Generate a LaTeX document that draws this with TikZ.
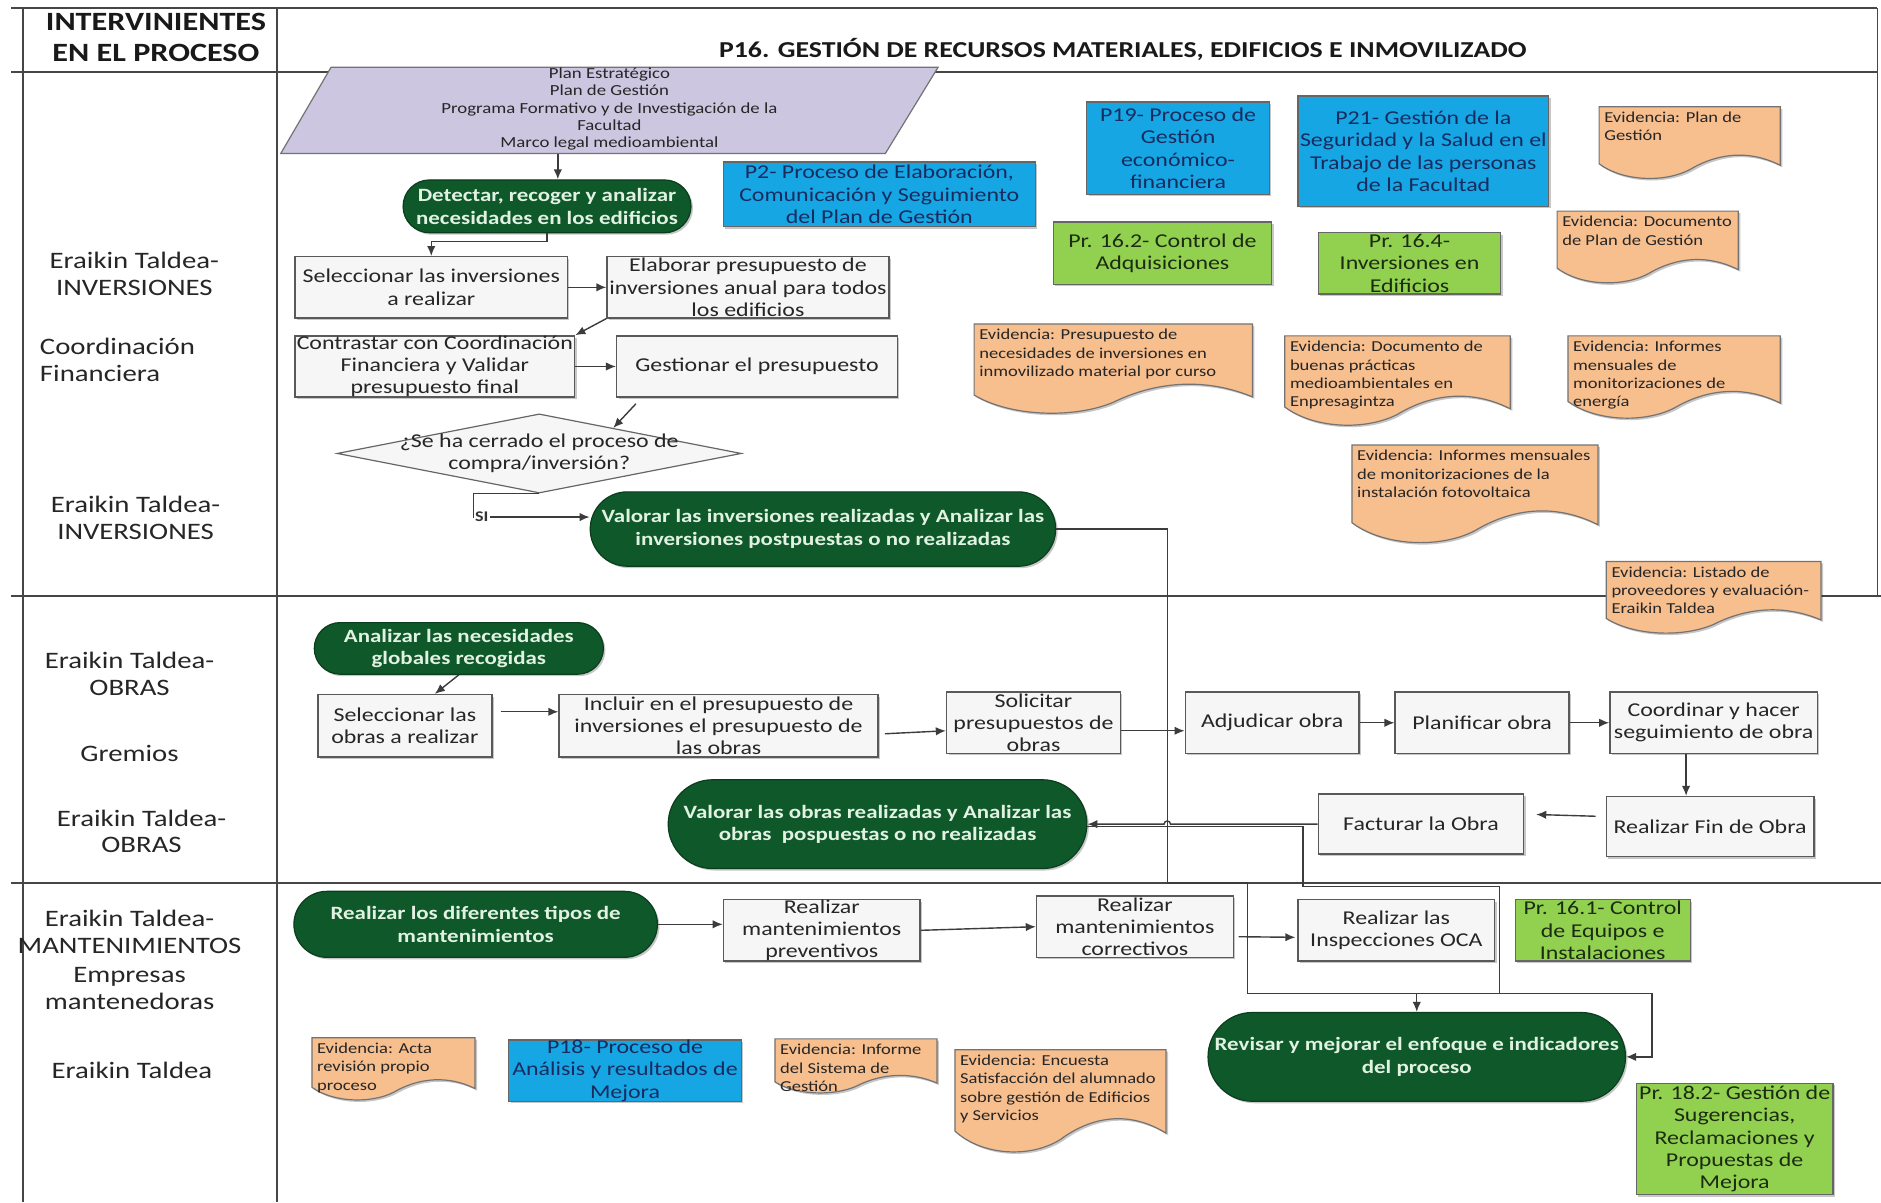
\documentclass[tikz,border=0pt]{standalone}
\usepackage{fontspec}
\setmainfont{Carlito}[FakeStretch=1.22]
\usetikzlibrary{arrows.meta,shapes.geometric,shadows}

\definecolor{frameC}{RGB}{70,70,70}
\definecolor{lineC}{RGB}{60,60,60}
\definecolor{pillC}{RGB}{14,88,42}
\definecolor{pillT}{RGB}{226,242,226}
\definecolor{blueC}{RGB}{22,166,228}
\definecolor{blueT}{RGB}{24,44,96}
\definecolor{greenC}{RGB}{146,208,80}
\definecolor{greenT}{RGB}{28,44,18}
\definecolor{evidC}{RGB}{247,190,142}
\definecolor{paraC}{RGB}{204,198,224}

\tikzset{
  frame/.style={draw=frameC, line width=0.9pt},
  arr/.style={draw=lineC, line width=0.7pt, -{Latex[length=5pt,width=4.2pt]}},
  conn/.style={draw=lineC, line width=0.7pt},
  shad/.style={drop shadow={shadow xshift=1pt,shadow yshift=-1pt,fill=black,opacity=0.22}},
  proc/.style={draw=black!65, fill=gray!7, line width=0.7pt, shad},
  proc text/.style={font=\fontsize{9.8}{11.1}\selectfont, text=black!85, align=center, inner sep=0pt},
  blue/.style={draw=black!60, fill=blueC, line width=0.6pt, shad},
  blue text/.style={font=\fontsize{9.8}{11.2}\selectfont, text=blueT, align=center, inner sep=0pt},
  green/.style={draw=black!60, fill=greenC, line width=0.6pt, shad},
  green text/.style={font=\fontsize{9.8}{11.2}\selectfont, text=greenT, align=center, inner sep=0pt},
  pill/.style={draw=pillC!70!black, fill=pillC, line width=0.6pt, rounded corners=\br pt, shad},
  pill text/.style={font=\bfseries\fontsize{9.4}{11.2}\selectfont, text=pillT, align=center, inner sep=0pt},
  dia/.style={shape=diamond, draw=black!60, fill=gray!7, line width=0.6pt},
  dia text/.style={font=\fontsize{9.8}{11.2}\selectfont, text=black!85, align=center, inner sep=0pt},
  evidshape/.style={draw=black!55, fill=evidC, line width=0.6pt, shad},
  evidtext/.style={font=\fontsize{7.6}{9.2}\selectfont, text=black!85, align=left, inner sep=0pt},
  lane/.style={font=\fontsize{11.8}{13.4}\selectfont, text=black!85, align=center, inner sep=0pt},
  head/.style={font=\bfseries\fontsize{13.2}{15.6}\selectfont, text=black!90, align=center, inner sep=0pt},
  title/.style={font=\bfseries\fontsize{11.4}{13}\selectfont, text=black!90, inner sep=0pt},
  para/.style={draw=black!55, fill=paraC, line width=0.6pt},
  paratext/.style={font=\fontsize{7.7}{8.7}\selectfont, text=black!85, align=center, inner sep=0pt},
}

% box placed by its corners: style, name, x0, y0, x1, y1, text
\newcommand\shapebox[7]{%
  \pgfmathsetmacro\bw{(#5-#3)*0.6}%
  \pgfmathsetmacro\bh{(#6-#4)*0.6}%
  \pgfmathsetmacro\br{(#6-#4)*0.3}%
  \node[#1, minimum width=\bw pt, minimum height=\bh pt, inner sep=0pt] (#2) at ({(#3+#5)/2},{(#4+#6)/2}) {};
  \node[#1 text] (#2-t) at (#2.center) {#7};}

% document shape with a wavy lower edge: name, x0, y0, x1, lowest y, text
\newcommand\evid[6]{%
  \path[evidshape] (#2,#3) -- (#4,#3) -- (#4,{#3+0.8*(#5-#3)})
    .. controls ({#2+0.8*(#4-#2)},{#3+0.55*(#5-#3)}) and ({#2+0.62*(#4-#2)},{#3+0.68*(#5-#3)}) .. ({#2+0.5*(#4-#2)},{#3+0.86*(#5-#3)})
    .. controls ({#2+0.36*(#4-#2)},{#3+1.04*(#5-#3)}) and ({#2+0.13*(#4-#2)},{#3+1.02*(#5-#3)}) .. (#2,{#3+0.78*(#5-#3)}) -- cycle;
  \node[evidtext, anchor=north west] (#1) at ({#2+4},{#3+4}) {#6};}

\begin{document}
\begin{tikzpicture}[x=0.6pt,y=-0.6pt]
\fill[white] (0,0) rectangle (1568,1002);
\useasboundingbox (0,0) rectangle (1568,1002);

% table frame and swimlanes
\draw[frame] (9,7) -- (1565,7);
\draw[frame] (9,60) -- (1565,60);
\draw[frame] (19,7) -- (19,1002);
\draw[frame] (231,7) -- (231,1002);
\draw[frame] (1565,7) -- (1565,497);
\draw[frame] (9,497) -- (1568,497);
\draw[frame] (9,736) -- (1568,736);

\node[head] (hdr) at (130,31) {INTERVINIENTES\\EN EL PROCESO};
\node[title] (ttl) at (936,41) {P16. GESTIÓN DE RECURSOS MATERIALES, EDIFICIOS E INMOVILIZADO};

% participants
\node[lane] (l1) at (112,228) {Eraikin Taldea-\\INVERSIONES};
\node[lane, align=left, anchor=west] (l2) at (33,300) {Coordinación\\Financiera};
\node[lane] (l3) at (113,432) {Eraikin Taldea-\\INVERSIONES};
\node[lane] (l4) at (108,562) {Eraikin Taldea-\\OBRAS};
\node[lane] (l5) at (108,628) {Gremios};
\node[lane] (l6) at (118,693) {Eraikin Taldea-\\OBRAS};
\node[lane] (l7) at (108,777) {Eraikin Taldea-\\MANTENIMIENTOS};
\node[lane] (l8) at (108,824) {Empresas\\mantenedoras};
\node[lane] (l9) at (110,892) {Eraikin Taldea};

% inputs
\path[para] (276,56) -- (782,56) -- (738,128) -- (234,128) -- cycle;
\node[paratext] (plantxt) at (508,91) {Plan Estratégico\\Plan de Gestión\\Programa Formativo y de Investigación de la\\Facultad\\Marco legal medioambiental};
\coordinate (planout) at (465,128);

% investments lane
\shapebox{pill}{detectar}{336}{150}{576}{194}{Detectar, recoger y analizar\\necesidades en los edificios}
\shapebox{proc}{selinv}{246}{214}{473}{265}{Seleccionar las inversiones\\a realizar}
\shapebox{proc}{elab}{506}{214}{741}{265}{Elaborar presupuesto de\\inversiones anual para todos\\los edificios}
\shapebox{proc}{contr}{246}{280}{479}{331}{Contrastar con Coordinación\\Financiera y Validar\\presupuesto final}
\shapebox{proc}{gest}{514}{280}{748}{331}{Gestionar el presupuesto}
\shapebox{dia}{dia}{281}{345}{618}{411}{¿Se ha cerrado el proceso de\\compra/inversión?}
\shapebox{pill}{valinv}{492}{410}{880}{472}{Valorar las inversiones realizadas y Analizar las\\inversiones postpuestas o no realizadas}

\shapebox{blue}{p2}{603}{135}{863}{189}{P2- Proceso de Elaboración,\\Comunicación y Seguimiento\\del Plan de Gestión}
\shapebox{blue}{p19}{906}{85}{1058}{162}{P19- Proceso de\\Gestión\\económico-\\financiera}
\shapebox{blue}{p21}{1082}{80}{1291}{172}{P21- Gestión de la\\Seguridad y la Salud en el\\Trabajo de las personas\\de la Facultad}
\shapebox{green}{pr162}{878}{185}{1060}{237}{Pr. 16.2- Control de\\Adquisiciones}
\shapebox{green}{pr164}{1099}{194}{1251}{245}{Pr. 16.4-\\Inversiones en\\Edificios}

\evid{ev1}{1333}{89}{1484}{150}{Evidencia: Plan de\\Gestión}
\evid{ev2}{1298}{176}{1449}{237}{Evidencia: Documento\\de Plan de Gestión}
\evid{ev3}{812}{270}{1044}{346}{Evidencia: Presupuesto de\\necesidades de inversiones en\\inmovilizado material por curso}
\evid{ev4}{1071}{280}{1259}{356}{Evidencia: Documento de\\buenas prácticas\\medioambientales en\\Enpresagintza}
\evid{ev5}{1307}{280}{1484}{350}{Evidencia: Informes\\mensuales de\\monitorizaciones de\\energía}
\evid{ev6}{1127}{371}{1332}{454}{Evidencia: Informes mensuales\\de monitorizaciones de la\\instalación fotovoltaica}
\evid{ev7}{1339}{468}{1518}{529}{Evidencia: Listado de\\proveedores y evaluación-\\Eraikin Taldea}

% works lane
\shapebox{pill}{analizar}{262}{519}{503}{562}{Analizar las necesidades\\globales recogidas}
\shapebox{proc}{selobr}{265}{579}{410}{631}{Seleccionar las\\obras a realizar}
\shapebox{proc}{incl}{466}{579}{732}{631}{Incluir en el presupuesto de\\inversiones el presupuesto de\\las obras}
\shapebox{proc}{solic}{789}{577}{934}{628}{Solicitar\\presupuestos de\\obras}
\shapebox{proc}{adjud}{988}{577}{1133}{628}{Adjudicar obra}
\shapebox{proc}{planif}{1163}{577}{1308}{628}{Planificar obra}
\shapebox{proc}{coord}{1342}{577}{1515}{628}{Coordinar y hacer\\seguimiento de obra}
\shapebox{proc}{finobra}{1339}{664}{1512}{714}{Realizar Fin de Obra}
\shapebox{proc}{fact}{1099}{662}{1270}{712}{Facturar la Obra}
\shapebox{pill}{valobr}{557}{650}{906}{724}{Valorar las obras realizadas y Analizar las\\obras\ \ pospuestas o no realizadas}

% maintenance lane
\shapebox{pill}{tipos}{245}{743}{548}{798}{Realizar los diferentes tipos de\\mantenimientos}
\shapebox{proc}{prev}{603}{750}{767}{801}{Realizar\\mantenimientos\\preventivos}
\shapebox{proc}{corr}{864}{747}{1028}{798}{Realizar\\mantenimientos\\correctivos}
\shapebox{proc}{oca}{1082}{750}{1246}{801}{Realizar las\\Inspecciones OCA}
\shapebox{green}{pr161}{1263}{750}{1409}{801}{Pr. 16.1- Control\\de Equipos e\\Instalaciones}
\shapebox{pill}{revisar}{1007}{844}{1355}{918}{Revisar y mejorar el enfoque e indicadores\\del proceso}
\shapebox{green}{pr182}{1364}{903}{1528}{996}{Pr. 18.2- Gestión de\\Sugerencias,\\Reclamaciones y\\Propuestas de\\Mejora}
\shapebox{blue}{p18}{424}{867}{618}{918}{P18- Proceso de\\Análisis y resultados de\\Mejora}

\evid{ev8}{260}{865}{396}{918}{Evidencia: Acta\\revisión propio\\proceso}
\evid{ev9}{646}{866}{781}{912}{Evidencia: Informe\\del Sistema de\\Gestión}
\evid{ev10}{796}{875}{972}{962}{Evidencia: Encuesta\\Satisfacción del alumnado\\sobre gestión de Edificios\\y Servicios}

% connectors: investments
\draw[arr] (planout) -- (planout |- detectar.north);
\draw[arr] (detectar.south) -- ++(0,7) -| (selinv.north);
\draw[arr] (selinv.east) -- (elab.west);
\draw[arr] (elab.south west) -- (contr.north east);
\draw[arr] (contr.east) -- (gest.west);
\draw[arr] ([xshift=10pt,yshift=-3pt]gest.south west) -- (dia.19);
\draw[arr] (dia.south) -- ++(-55,0) |- node[pos=0.5, anchor=west, fill=white, inner sep=0.6pt, font=\bfseries\fontsize{7.4}{8}\selectfont, text=black!80] (si) {SI} ([yshift=6pt]valinv.west);

% connectors: works
\draw[arr] (analizar.south) -- ([xshift=15pt]selobr.north);
\draw[arr] ([xshift=4pt,yshift=7pt]selobr.east) -- ([yshift=7pt]incl.west);
\draw[arr] ([xshift=3pt,yshift=-4pt]incl.east) -- ([yshift=-4pt]solic.west);
\draw[arr] ([yshift=-4pt]solic.east) -- ([yshift=-4pt]adjud.west);
\draw[arr] (adjud.east) -- (planif.west);
\draw[arr] (planif.east) -- (coord.west);
\draw[arr] (coord.south) ++(-23,0) coordinate (cs) -- (cs |- finobra.north);
\draw[arr, shorten <=5pt, shorten >=6pt] ([yshift=5pt]finobra.west) -- ([yshift=5pt]fact.east);
\coordinate (hopR) at (975.7,687);
\draw[arr] (fact.west) -- (hopR) arc[start angle=0, end angle=180, radius=1.6pt] -- (valobr.east);

% connectors: maintenance
\draw[arr] (tipos.east) -- (tipos.east -| prev.west);
\draw[arr] (prev.east) -- (corr.west);
\draw[arr] ([xshift=2.4pt,yshift=-5pt]corr.east) -- ([xshift=-1pt,yshift=-3.5pt]oca.west);

% connectors into the review step
\draw[arr] (valinv.east) -| (973,736) -| (1040,828) -| (1377,881) -- (revisar.east);
\draw[arr] ([yshift=-1.2pt]valobr.east) -| (1086,739) -| (1250,828) -| (revisar.north);
\end{tikzpicture}
\end{document}
